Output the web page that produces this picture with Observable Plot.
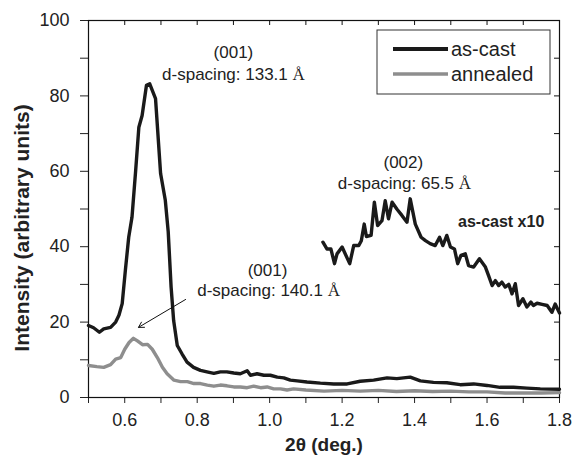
<!DOCTYPE html>
<html>
<head>
<meta charset="utf-8">
<script src="https://cdn.jsdelivr.net/npm/d3@7"></script>
<script src="https://cdn.jsdelivr.net/npm/@observablehq/plot@0.6"></script>
<style>
  html, body { margin: 0; padding: 0; background: #fff; }
  #chart { width: 572px; height: 460px; }
</style>
</head>
<body>
<div id="chart"></div>
<script>
// ---- data ----
const asCastX = [0.500,0.514,0.530,0.542,0.561,0.575,0.584,0.593,0.602,0.611,0.620,0.630,0.639,0.648,0.660,0.669,0.685,0.699,0.712,0.720,0.728,0.735,0.745,0.758,0.772,0.790,0.809,0.827,0.846,0.864,0.882,0.901,0.919,0.938,0.947,0.965,0.984,1.002,1.021,1.039,1.057,1.076,1.103,1.140,1.177,1.214,1.250,1.287,1.324,1.351,1.388,1.416,1.452,1.489,1.526,1.563,1.600,1.636,1.673,1.710,1.747,1.800];
const asCastY = [19.1,18.5,17.3,18.2,18.6,20.0,21.8,24.9,34.0,42.5,47.8,60.0,71.7,74.8,82.8,83.2,79.3,59.4,52.3,44.0,29.3,20.4,13.8,11.6,9.4,8.0,7.2,6.8,6.4,6.8,6.8,6.5,6.3,7.1,5.9,6.3,5.9,5.9,5.4,5.2,4.6,4.4,4.1,3.8,3.6,3.6,4.3,4.6,5.2,5.0,5.4,4.4,4.0,3.9,3.4,3.6,3.2,2.7,2.7,2.5,2.3,2.2];

const annealedX = [0.500,0.523,0.542,0.561,0.575,0.589,0.600,0.612,0.624,0.635,0.649,0.663,0.676,0.690,0.704,0.717,0.736,0.754,0.773,0.791,0.809,0.828,0.846,0.864,0.882,0.901,0.919,0.938,0.956,0.975,0.993,1.011,1.030,1.048,1.066,1.100,1.150,1.200,1.250,1.300,1.350,1.400,1.450,1.500,1.550,1.600,1.650,1.700,1.750,1.800];
const annealedY = [8.5,8.2,8.0,8.7,10.2,10.6,12.8,14.6,15.7,15.0,14.0,14.1,12.8,10.6,8.0,6.3,4.6,4.2,4.2,3.7,3.7,3.3,3.0,3.3,3.1,2.8,2.8,2.6,3.0,2.6,2.8,2.3,2.3,2.0,2.3,2.0,1.7,1.9,1.7,1.9,1.6,1.8,1.6,1.7,1.5,1.5,1.2,1.2,1.2,1.3];

const x10X = [1.147,1.158,1.169,1.179,1.186,1.200,1.221,1.232,1.246,1.253,1.261,1.267,1.280,1.289,1.298,1.310,1.319,1.328,1.338,1.351,1.365,1.379,1.388,1.402,1.418,1.430,1.443,1.457,1.469,1.478,1.489,1.499,1.510,1.519,1.528,1.540,1.549,1.563,1.579,1.595,1.604,1.614,1.623,1.632,1.641,1.650,1.660,1.669,1.678,1.687,1.699,1.710,1.721,1.728,1.738,1.752,1.766,1.779,1.788,1.800];
const x10Y = [41.2,39.4,39.4,35.5,38.1,39.9,35.5,40.3,40.3,41.6,46.0,42.7,43.0,51.8,45.6,46.9,52.2,47.4,51.8,50.0,48.3,46.5,52.7,46.0,42.5,41.6,40.8,40.3,42.5,40.3,43.0,39.9,39.4,35.5,37.7,38.1,35.0,34.6,36.8,34.7,32.4,29.7,31.0,29.7,30.6,29.3,30.0,27.5,30.2,24.4,26.2,24.0,25.3,24.4,25.0,24.7,24.4,22.6,24.8,22.4];

const xTicks = d3.range(5, 19).map(d => d / 10);
const yTicks = d3.range(0, 101, 10);
const seriesNames = ["as-cast", "annealed"];
const yTitle = "Intensity (arbitrary units)";
const xTitle = "2θ (deg.)";
const annotations = [
  {text: "(001)", x: 0.90, y: 91.5},
  {text: "d-spacing: 133.1 Å", x: 0.90, y: 85.7},
  {text: "(002)", x: 1.369, y: 62.4},
  {text: "d-spacing: 65.5 Å", x: 1.372, y: 56.8},
  {text: "(001)", x: 0.994, y: 33.7},
  {text: "d-spacing: 140.1 Å", x: 0.997, y: 28.4}
];
const arrowPts = [{x1: 0.768, y1: 26.0, x2: 0.638, y2: 18.6}];
const boldNote = [{text: "as-cast x10", x: 1.639, y: 46.5}];

// ---- build tables ----
const asCast = asCastX.map((x, i) => ({x, y: asCastY[i]}));
const annealed = annealedX.map((x, i) => ({x, y: annealedY[i]}));
const x10 = x10X.map((x, i) => ({x, y: x10Y[i]}));

const BLACK = "#1a1a1a", GRAY = "#8e8e8e";

const chart = Plot.plot({
  width: 572, height: 460,
  marginLeft: 88, marginRight: 13, marginTop: 20, marginBottom: 63,
  style: {fontFamily: "'Liberation Sans', Arial, sans-serif", fontSize: "18px", color: "#222", background: "#fff"},
  x: {domain: [0.5, 1.8]},
  y: {domain: [0, 100]},
  marks: [
    Plot.axisX({ticks: xTicks, anchor: "bottom", tickSize: 6, tickPadding: 10, label: null,
      tickFormat: d => (Math.round(d * 10) % 2 === 0 ? d.toFixed(1) : "")}),
    Plot.axisY({ticks: yTicks, anchor: "left", tickSize: 8, tickPadding: 11, label: null,
      tickFormat: d => (d % 20 === 0 ? String(d) : "")}),
    Plot.tickX(xTicks, {x: d => d, insetBottom: 372, stroke: "#111"}),
    Plot.tickY(yTicks, {y: d => d, insetLeft: 466, stroke: "#111"}),
    Plot.frame({stroke: "#111", strokeWidth: 1.2}),
    Plot.line(annealed, {x: "x", y: "y", stroke: GRAY, strokeWidth: 3.4}),
    Plot.line(asCast, {x: "x", y: "y", stroke: BLACK, strokeWidth: 3.4}),
    Plot.line(x10, {x: "x", y: "y", stroke: BLACK, strokeWidth: 3.4}),
    Plot.text(annotations, {x: "x", y: "y", text: "text", fontSize: 17, fill: "#222"}),
    Plot.text(boldNote, {x: "x", y: "y", text: "text", fontSize: 16, fontWeight: "bold", fill: "#222"}),
    Plot.arrow(arrowPts, {x1: "x1", y1: "y1", x2: "x2", y2: "y2", stroke: "#111", strokeWidth: 1, headLength: 9}),
    Plot.text([xTitle], {frameAnchor: "bottom", dy: 53, fontSize: 19, fontWeight: "bold", fill: "#222"})
  ]
});

document.getElementById("chart").appendChild(chart);
const svg = d3.select(chart);

// serif Å like the reference
svg.selectAll("text").each(function() {
  const t = this.textContent;
  if (t.includes("Å") && this.children.length === 0) {
    const sel = d3.select(this);
    sel.text("");
    sel.append("tspan").text(t.replace("Å", ""));
    sel.append("tspan").attr("font-family", "'Liberation Serif', 'Times New Roman', serif").text("Å");
  }
});

// rotated y-axis title
svg.append("text")
  .attr("transform", "translate(22,228) rotate(-90)")
  .attr("text-anchor", "middle").attr("dy", "0.35em")
  .attr("font-size", 21).attr("font-weight", "bold").attr("fill", "#222")
  .text(yTitle);

// legend box inside the plot area
const lg = svg.append("g").attr("class", "legend");
lg.append("rect").attr("x", 377).attr("y", 30).attr("width", 173).attr("height", 64)
  .attr("fill", "#fff").attr("stroke", "#333").attr("stroke-width", 1);
const legendColors = [BLACK, GRAY];
const legendWidths = [4, 3.5];
seriesNames.forEach((name, i) => {
  const yy = 49 + i * 25;
  lg.append("line").attr("x1", 393).attr("x2", 448).attr("y1", yy).attr("y2", yy)
    .attr("stroke", legendColors[i]).attr("stroke-width", legendWidths[i]);
  lg.append("text").attr("x", 451).attr("y", yy).attr("dy", "0.35em")
    .attr("text-anchor", "start")
    .attr("font-size", 20).attr("fill", "#222").text(name);
});
</script>
</body>
</html>
